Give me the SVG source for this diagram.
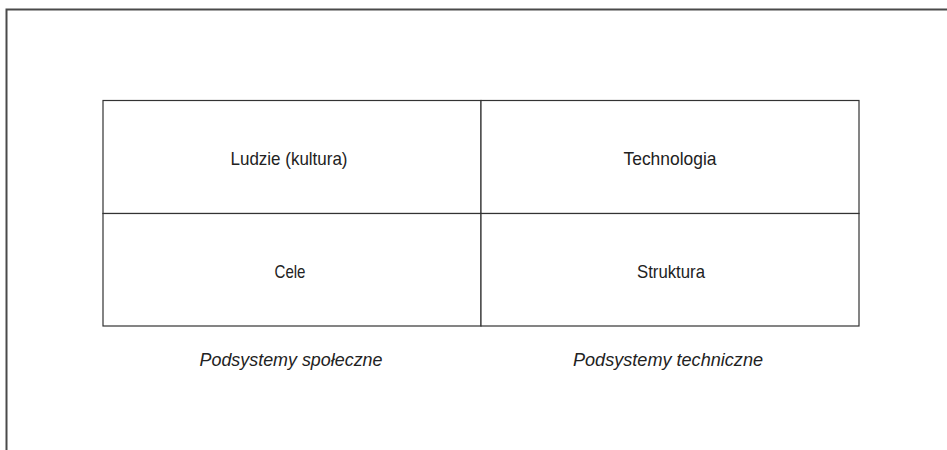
<svg xmlns="http://www.w3.org/2000/svg" width="947" height="450" viewBox="0 0 947 450">
<style>
.frame{fill:none;stroke:#4a4a4a;stroke-width:2}
.cell{fill:#fff;stroke:#333;stroke-width:1.2}
.lbl{font-family:"Liberation Sans",Arial,sans-serif;font-size:19px;fill:#222;text-anchor:middle}
.cap{font-family:"Liberation Sans",Arial,sans-serif;font-size:19px;font-style:italic;fill:#222;text-anchor:middle}
</style>
<rect width="947" height="450" fill="#fff"/>
<path class="frame" d="M6.5,450 V9.5 H947"/>
<g id="ludzie"><rect class="cell" x="103" y="100.5" width="378" height="113"/><text class="lbl" x="289" y="165" textLength="117" lengthAdjust="spacingAndGlyphs">Ludzie (kultura)</text></g>
<g id="technologia"><rect class="cell" x="481" y="100.5" width="378" height="113"/><text class="lbl" x="670" y="165" textLength="93" lengthAdjust="spacingAndGlyphs">Technologia</text></g>
<g id="cele"><rect class="cell" x="103" y="213.5" width="378" height="112.5"/><text class="lbl" x="290" y="278" textLength="31" lengthAdjust="spacingAndGlyphs">Cele</text></g>
<g id="struktura"><rect class="cell" x="481" y="213.5" width="378" height="112.5"/><text class="lbl" x="671" y="278" textLength="68" lengthAdjust="spacingAndGlyphs">Struktura</text></g>
<g id="captions">
<text class="cap" x="291" y="366" textLength="183" lengthAdjust="spacingAndGlyphs">Podsystemy społeczne</text>
<text class="cap" x="668" y="366" textLength="190" lengthAdjust="spacingAndGlyphs">Podsystemy techniczne</text>
</g>
<g id="connectors"></g>
</svg>
